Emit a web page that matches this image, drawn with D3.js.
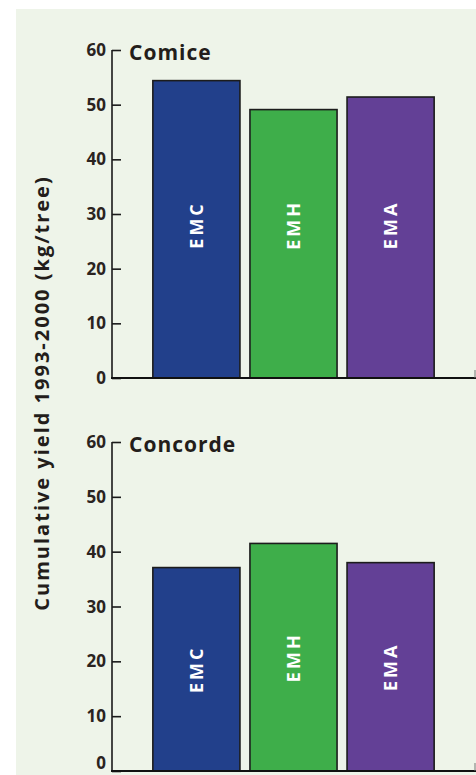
<!DOCTYPE html>
<html>
<head>
<meta charset="utf-8">
<script src="https://cdn.jsdelivr.net/npm/d3@7"></script>
<style>
  html, body { margin: 0; padding: 0; background: #ffffff; }
  svg { display: block; }
  text { font-family: "Open Sans", "Lato", sans-serif; font-weight: bold; }
</style>
</head>
<body>
<svg id="chart" width="476" height="775"></svg>
<script>
// ---- data ----
const categories = ["EMC", "EMH", "EMA"];
const panels = ["Comice", "Concorde"];
const comiceValues = [54.4, 49.1, 51.4];
const concordeValues = [37.1, 41.5, 38.0];
const yTicks = [0, 10, 20, 30, 40, 50, 60];
const yTitle = "Cumulative yield 1993-2000 (kg/tree)";
const colors = ["#22408b", "#3eae4a", "#634096"];

const seriesByPanel = [comiceValues, concordeValues];

const svg = d3.select("#chart");

// background panel
svg.append("rect")
  .attr("x", 16).attr("y", 9).attr("width", 460).attr("height", 766)
  .attr("fill", "#eef4e9");

const x = d3.scaleBand()
  .domain(categories)
  .range([148, 439])
  .paddingInner(0.103)
  .paddingOuter(0.05);

const color = d3.scaleOrdinal().domain(categories).range(colors);

const panelRanges = [[378, 50], [771, 442]];

panels.forEach((name, pi) => {
  const values = seriesByPanel[pi];
  const y = d3.scaleLinear().domain([0, 60]).range(panelRanges[pi]);
  const g = svg.append("g");

  // bars
  g.selectAll("rect.bar")
    .data(categories)
    .join("rect")
    .attr("class", "bar")
    .attr("x", d => x(d))
    .attr("width", x.bandwidth())
    .attr("y", (d, i) => y(values[i]))
    .attr("height", (d, i) => y(0) - y(values[i]))
    .attr("fill", d => color(d))
    .attr("stroke", "#1c1c1c")
    .attr("stroke-width", 1.6);

  // bar labels (rotated)
  g.selectAll("text.blab")
    .data(categories)
    .join("text")
    .attr("class", "blab")
    .attr("transform", (d, i) => {
      const cy = pi === 0 ? y(28) : y(values[i] / 2);
      return `translate(${x(d) + x.bandwidth() / 2},${cy}) rotate(-90)`;
    })
    .attr("text-anchor", "middle")
    .attr("dy", "0.36em")
    .attr("fill", "#ffffff")
    .attr("font-size", 18)
    .attr("letter-spacing", 3)
    .text(d => d);

  // y axis
  const axis = d3.axisRight(y).tickValues(yTicks).tickSize(9).tickFormat("");
  const ag = g.append("g").attr("transform", `translate(112,0)`).call(axis);
  ag.select(".domain").attr("stroke", "#1a1a1a").attr("stroke-width", 1.6)
    .attr("d", `M0,${y(60)}V${y(0)}`);
  ag.selectAll(".tick line").attr("stroke", "#1a1a1a").attr("stroke-width", 1.6);

  // tick labels
  g.selectAll("text.tl")
    .data(yTicks)
    .join("text")
    .attr("class", "tl")
    .attr("x", 106)
    .attr("y", d => Math.min(y(d), 763))
    .attr("dy", "0.36em")
    .attr("text-anchor", "end")
    .attr("font-size", 17)
    .attr("fill", "#2a2320")
    .text(d => d);

  // baseline
  g.append("line")
    .attr("x1", 111).attr("x2", 476)
    .attr("y1", y(0)).attr("y2", y(0))
    .attr("stroke", "#111").attr("stroke-width", 2.2);
  g.append("line")
    .attr("x1", 475).attr("x2", 475)
    .attr("y1", y(0)).attr("y2", y(0) - 8)
    .attr("stroke", "#777").attr("stroke-width", 1);

  // panel title
  g.append("text")
    .attr("x", 129)
    .attr("y", y(60) + 10)
    .attr("font-size", 21)
    .attr("letter-spacing", 1)
    .attr("fill", "#231d1a")
    .text(name);
});

// y axis title
svg.append("text")
  .attr("transform", "translate(42,393) rotate(-90)")
  .attr("text-anchor", "middle")
  .attr("dy", "0.36em")
  .attr("font-size", 20)
  .attr("letter-spacing", 2)
  .attr("fill", "#231d1a")
  .text(yTitle);
</script>
</body>
</html>
